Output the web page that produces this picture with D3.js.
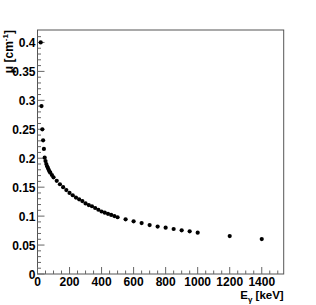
<!DOCTYPE html>
<html><head><meta charset="utf-8">
<script src="https://cdn.jsdelivr.net/npm/d3@7"></script>
<style>body{margin:0;background:#fff}svg{display:block}text{font-family:"Liberation Sans",Arial,sans-serif;font-weight:bold;fill:#000}</style>
</head><body>
<script>
const energies = [20,25,30,35,40,45,50,55,60,65,70,75,80,90,100,120,140,160,180,200,220,240,260,280,300,320,340,360,380,400,420,440,460,480,500,550,600,650,700,750,800,850,900,950,1000,1200,1400];
const mu = [0.400,0.290,0.250,0.231,0.216,0.201,0.195,0.190,0.186,0.183,0.180,0.177,0.175,0.171,0.167,0.161,0.155,0.150,0.145,0.140,0.136,0.132,0.129,0.126,0.122,0.119,0.117,0.114,0.111,0.108,0.106,0.104,0.102,0.100,0.098,0.0945,0.091,0.088,0.0845,0.082,0.080,0.0777,0.0755,0.0737,0.0714,0.0656,0.0604];
const xTicks = [0,200,400,600,800,1000,1200,1400];
const yTicks = [0,0.05,0.1,0.15,0.2,0.25,0.3,0.35,0.4];

const W=316,H=305;
const L=37.5,R=283.7,T=30,B=274;
const svg=d3.select("body").append("svg").attr("width",W).attr("height",H);
const x=d3.scaleLinear().domain([0,1537]).range([L,R]);
const y=d3.scaleLinear().domain([0,0.4215]).range([B,T]);

// frame
svg.append("rect").attr("x",L).attr("y",T).attr("width",R-L).attr("height",B-T)
  .attr("fill","none").attr("stroke","#555").attr("stroke-width",1);

// ticks
const g=svg.append("g").attr("stroke","#666").attr("stroke-width",1);
d3.range(0,1537,50).forEach(v=>{
  const major = v%200===0;
  g.append("line").attr("x1",x(v)).attr("x2",x(v)).attr("y1",B).attr("y2",B-(major?7:3.5));
});
d3.range(0,42).forEach(i=>{
  const v=i*0.01, major=i%5===0;
  g.append("line").attr("x1",L).attr("x2",L+(major?7:3.5)).attr("y1",y(v)).attr("y2",y(v));
});

// tick labels
svg.selectAll(".xl").data(xTicks).enter().append("text")
  .attr("x",d=>x(d)).attr("y",286).attr("text-anchor","middle").attr("font-size",12).text(d=>d);
svg.selectAll(".yl").data(yTicks).enter().append("text")
  .attr("x",35.5).attr("y",d=>y(d)+4.5).attr("text-anchor","end").attr("font-size",12).text(d=>d);

// axis titles
const xt=svg.append("text").attr("x",R).attr("y",299).attr("text-anchor","end").attr("font-size",11.5);
xt.append("tspan").text("E");
xt.append("tspan").attr("font-size",8).attr("dy",3).text("γ");
xt.append("tspan").attr("dy",-3).text(" [keV]");
const yt=svg.append("text").attr("transform",`translate(13,${T}) rotate(-90)`).attr("text-anchor","end").attr("font-size",12);
yt.append("tspan").text("μ [cm");
yt.append("tspan").attr("font-size",8).attr("dy",-5).text("-1");
yt.append("tspan").attr("dy",5).text("]");

// points
svg.selectAll("circle").data(energies).enter().append("circle")
  .attr("cx",d=>x(d)).attr("cy",(d,i)=>y(mu[i])).attr("r",2.1).attr("fill","#000");
</script>
</body></html>
